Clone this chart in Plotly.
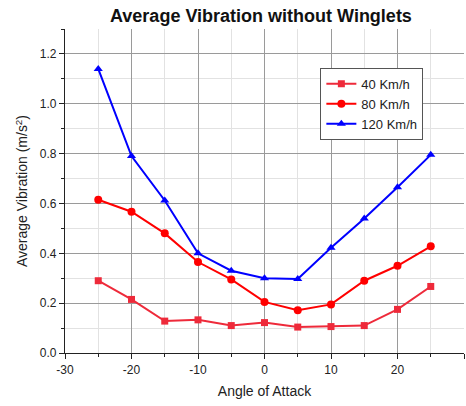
import plotly.graph_objects as go

angles = [-25, -20, -15, -10, -5, 0, 5, 10, 15, 20, 25]
vib_40 = [0.29, 0.215, 0.128, 0.133, 0.11, 0.122, 0.104, 0.106, 0.11, 0.175, 0.267]
vib_80 = [0.615, 0.567, 0.48, 0.365, 0.295, 0.205, 0.172, 0.195, 0.29, 0.35, 0.428]
vib_120 = [1.14, 0.79, 0.612, 0.4, 0.33, 0.3, 0.297, 0.422, 0.54, 0.665, 0.795]

x_ticks = [-30, -20, -10, 0, 10, 20, 30]
x_tick_labels = ["-30", "-20", "-10", "0", "10", "20", "30"]

series = [
    ("40 Km/h", vib_40, "#ee2a3a", "square", 7),
    ("80 Km/h", vib_80, "#ff0000", "circle", 8),
    ("120 Km/h", vib_120, "#0000ff", "triangle-up", 8),
]

fig = go.Figure()
for name, vals, color, sym, size in series:
    fig.add_trace(go.Scatter(
        x=angles, y=vals, name=name, mode="lines+markers",
        line=dict(color=color, width=2),
        marker=dict(symbol=sym, size=size, color=color),
    ))

font_family = "Liberation Sans, Arial"
axis_common = dict(
    showline=True, linecolor="#222", linewidth=1.2,
    ticks="outside", ticklen=5, tickcolor="#222",
    showgrid=True, gridcolor="#9a9a9a", gridwidth=1,
    zeroline=False, mirror=False,
    tickfont=dict(family=font_family, size=12, color="#222"),
)

fig.update_layout(
    width=466, height=406,
    margin=dict(l=65, r=2, t=29, b=53),
    paper_bgcolor="white", plot_bgcolor="white",
    title=dict(text="<b>Average Vibration without Winglets</b>",
               x=0.56, xanchor="center", y=0.962, yanchor="middle",
               font=dict(family=font_family, size=18, color="#111")),
    xaxis=dict(range=[-30, 30], tickmode="array", tickvals=x_ticks, ticktext=x_tick_labels,
               minor=dict(dtick=5, tick0=-30, ticks="outside", ticklen=3, tickcolor="#222",
                          showgrid=True, gridcolor="#e2e2e2"),
               title=dict(text="Angle of Attack", standoff=10,
                          font=dict(family=font_family, size=14, color="#222")),
               **axis_common),
    yaxis=dict(range=[0, 1.3], dtick=0.2, tick0=0, tickformat=".1f",
               minor=dict(dtick=0.1, ticks="outside", ticklen=3, tickcolor="#222",
                          showgrid=True, gridcolor="#e2e2e2"),
               title=dict(text="Average Vibration (m/s<sup>2</sup>)", standoff=8,
                          font=dict(family=font_family, size=14, color="#222")),
               **axis_common),
    legend=dict(x=0.64, y=0.88, xanchor="left", yanchor="top",
                bgcolor="white", bordercolor="#555", borderwidth=1,
                font=dict(family=font_family, size=13, color="#222"),
                tracegroupgap=0, itemsizing="trace", itemwidth=30),
    showlegend=True,
)

fig.write_html("out.html")
